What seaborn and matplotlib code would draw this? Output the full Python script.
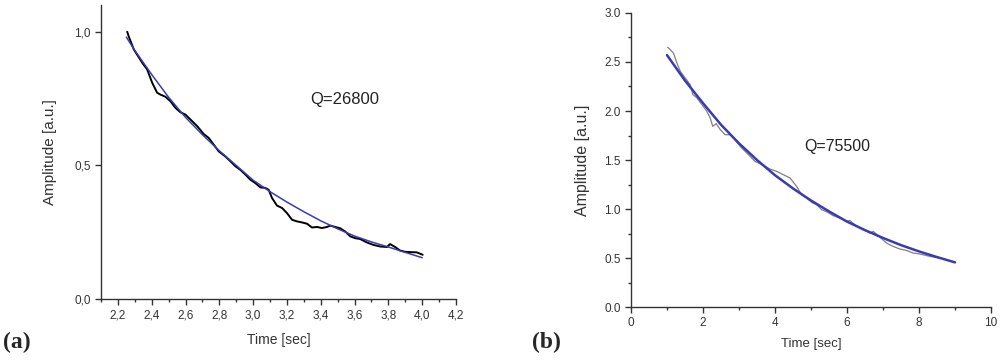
import numpy as np
import pandas as pd
import matplotlib
matplotlib.use("Agg")
import matplotlib.pyplot as plt
from matplotlib.ticker import MultipleLocator, FormatStrFormatter
import seaborn as sns

# panel (a): measured ring-down and exponential fit
a_time = [2.255, 2.265, 2.294, 2.344, 2.373, 2.403, 2.432, 2.452, 2.481, 2.511,
          2.541, 2.570, 2.600, 2.629, 2.669, 2.707, 2.737, 2.767, 2.796, 2.835,
          2.865, 2.895, 2.924, 2.954, 2.983, 3.013, 3.043, 3.072, 3.092, 3.112,
          3.141, 3.171, 3.200, 3.230, 3.259, 3.289, 3.319, 3.348, 3.378, 3.407,
          3.437, 3.456, 3.486, 3.515, 3.545, 3.574, 3.604, 3.633, 3.673, 3.711,
          3.751, 3.791, 3.810, 3.840, 3.869, 3.899, 3.929, 3.968, 4.003]
a_amp = [1.000, 0.981, 0.934, 0.884, 0.859, 0.809, 0.772, 0.765, 0.757, 0.740,
         0.715, 0.699, 0.690, 0.672, 0.647, 0.618, 0.603, 0.578, 0.553, 0.534,
         0.516, 0.497, 0.484, 0.466, 0.447, 0.434, 0.418, 0.416, 0.409, 0.378,
         0.350, 0.341, 0.322, 0.297, 0.291, 0.287, 0.282, 0.268, 0.270, 0.266,
         0.270, 0.275, 0.270, 0.265, 0.253, 0.235, 0.228, 0.225, 0.212, 0.203,
         0.197, 0.195, 0.206, 0.195, 0.182, 0.177, 0.176, 0.175, 0.166]
a_fit_time = [2.25, 2.3, 2.4, 2.5, 2.6, 2.7, 2.8, 2.9, 3.0, 3.1, 3.2, 3.3, 3.4,
              3.5, 3.6, 3.7, 3.8, 3.9, 4.0]
a_fit_amp = [0.98, 0.93, 0.84, 0.755, 0.68, 0.615, 0.555, 0.50, 0.445, 0.402,
             0.363, 0.327, 0.293, 0.263, 0.236, 0.214, 0.195, 0.175, 0.155]
a_label = "Q=26800"

# panel (b)
b_time = [1.017, 1.09, 1.18, 1.275, 1.37, 1.506, 1.645, 1.72, 1.83, 1.97,
          2.107, 2.2, 2.27, 2.366, 2.48, 2.616, 2.754, 2.89, 3.03, 3.17,
          3.31, 3.447, 3.586, 3.725, 3.863, 4.048, 4.233, 4.418, 4.6, 4.74,
          4.88, 5.02, 5.157, 5.296, 5.43, 5.62, 5.80, 5.99, 6.08, 6.27,
          6.45, 6.64, 6.73, 6.91, 7.10, 7.28, 7.47, 7.65, 7.84, 7.98,
          8.11, 8.30, 8.58]
b_amp = [2.65, 2.626, 2.59, 2.49, 2.405, 2.337, 2.269, 2.167, 2.133, 2.065,
         1.997, 1.929, 1.844, 1.871, 1.81, 1.758, 1.758, 1.707, 1.64, 1.588,
         1.537, 1.486, 1.463, 1.435, 1.408, 1.384, 1.35, 1.316, 1.231, 1.146,
         1.112, 1.068, 1.044, 0.993, 0.973, 0.932, 0.908, 0.874, 0.884, 0.823,
         0.789, 0.755, 0.772, 0.714, 0.653, 0.619, 0.592, 0.578, 0.551, 0.544,
         0.534, 0.517, 0.500]
b_fit_time = [1.0, 1.5, 2.0, 2.5, 3.0, 3.5, 4.0, 4.5, 5.0, 5.5, 6.0, 6.5, 7.0,
              7.5, 8.0, 8.5, 9.0]
b_fit_amp = [2.57, 2.31, 2.08, 1.86, 1.67, 1.50, 1.345, 1.21, 1.087, 0.976,
             0.872, 0.785, 0.705, 0.632, 0.568, 0.510, 0.456]
b_label = "Q=75500"

sns.set_style("ticks")
plt.rcParams['font.family'] = ['Liberation Sans', 'DejaVu Sans']
plt.rcParams['xtick.direction'] = 'out'
plt.rcParams['ytick.direction'] = 'out'

blue = "#3b3bb0"
axc = "#333333"

fig = plt.figure(figsize=(10, 3.6), dpi=100)
ax1 = fig.add_axes([0.101, 0.169, 0.355, 0.817])
ax2 = fig.add_axes([0.631, 0.147, 0.360, 0.817])

df_a = pd.DataFrame({"t": a_time, "amp": a_amp})
df_af = pd.DataFrame({"t": a_fit_time, "amp": a_fit_amp})
sns.lineplot(data=df_a, x="t", y="amp", ax=ax1, color="black", lw=1.4, sort=False)
sns.lineplot(data=df_af, x="t", y="amp", ax=ax1, color=blue, lw=1.1, sort=False)

df_b = pd.DataFrame({"t": b_time, "amp": b_amp})
df_bf = pd.DataFrame({"t": b_fit_time, "amp": b_fit_amp})
sns.lineplot(data=df_b, x="t", y="amp", ax=ax2, color="#808080", lw=0.9, sort=False)
sns.lineplot(data=df_bf, x="t", y="amp", ax=ax2, color=blue, lw=1.8, sort=False)

for ax in (ax1, ax2):
    sns.despine(ax=ax)
    for s in ("left", "bottom"):
        ax.spines[s].set_color(axc)
        ax.spines[s].set_linewidth(1.0)
    ax.tick_params(which="major", length=4, width=1, color=axc, labelsize=8.5, labelcolor=axc)
    ax.tick_params(which="minor", length=2.5, width=1, color=axc)

ax1.set_xlim(2.1, 4.2)
ax1.set_ylim(0, 1.1)
ax1.xaxis.set_major_locator(MultipleLocator(0.2))
ax1.xaxis.set_minor_locator(MultipleLocator(0.1))
ax1.yaxis.set_major_locator(MultipleLocator(0.5))
ax1.xaxis.set_major_formatter(lambda v, p: f"{v:.1f}".replace(".", ","))
ax1.yaxis.set_major_formatter(lambda v, p: f"{v:.1f}".replace(".", ","))
ax1.set_xlabel("Time [sec]", fontsize=10, color=axc, labelpad=8)
ax1.set_ylabel("Amplitude [a.u.]", fontsize=11, color=axc, labelpad=12)
ax1.text(3.54, 0.745, a_label, fontsize=12, color="#222222", ha="center", va="center")

ax2.set_xlim(0, 10)
ax2.set_ylim(0, 3.0)
ax2.xaxis.set_major_locator(MultipleLocator(2))
ax2.xaxis.set_minor_locator(MultipleLocator(1))
ax2.yaxis.set_major_locator(MultipleLocator(0.5))
ax2.yaxis.set_minor_locator(MultipleLocator(0.25))
ax2.yaxis.set_major_formatter(FormatStrFormatter("%.1f"))
ax2.set_xlabel("Time [sec]", fontsize=9.5, color=axc, labelpad=6)
ax2.set_ylabel("Amplitude [a.u.]", fontsize=11.5, color=axc, labelpad=10)
ax2.text(5.72, 1.64, b_label, fontsize=11.5, color="#222222", ha="center", va="center")

fig.text(0.003, 0.05, "(a)", fontsize=17, fontweight="bold", family="Liberation Serif", va="center")
fig.text(0.532, 0.05, "(b)", fontsize=17, fontweight="bold", family="Liberation Serif", va="center")

fig.savefig("out.png", dpi=100, facecolor="white")
